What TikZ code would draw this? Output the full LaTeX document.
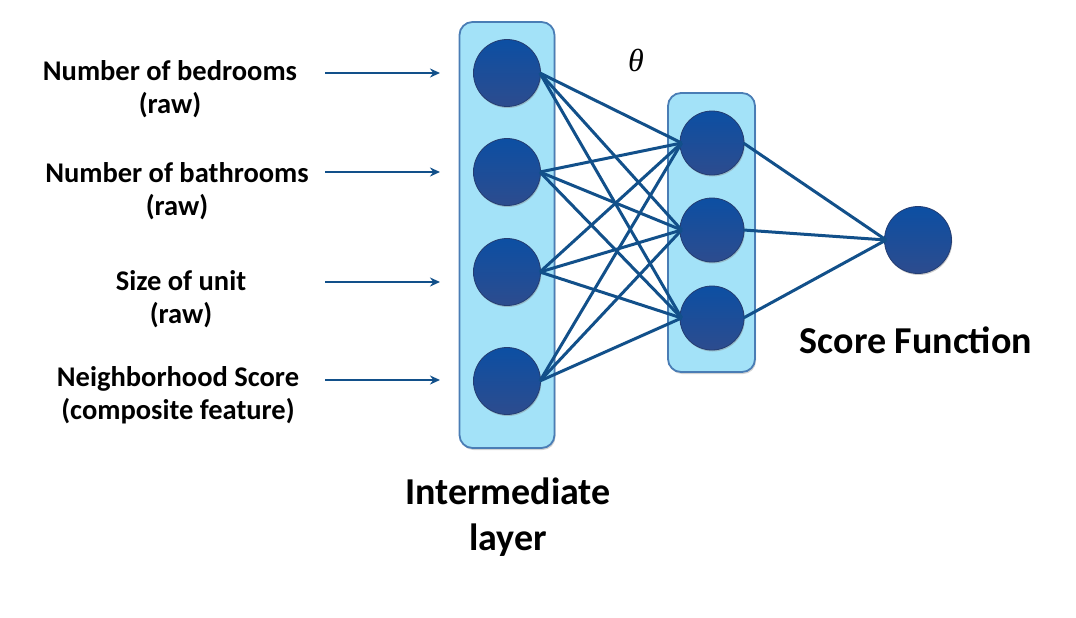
\documentclass[tikz,border=0pt]{standalone}
\usepackage{fontspec}
\setmainfont{Carlito}
\newfontfamily\thetafont{Liberation Serif}
\usetikzlibrary{arrows.meta,shadows}
\definecolor{linec}{HTML}{12508A}
\definecolor{boxfill}{HTML}{A3E2F8}
\definecolor{boxdraw}{HTML}{4A7DB5}
\definecolor{ctop}{HTML}{0C4FA3}
\definecolor{cbot}{HTML}{2D4C8E}
\tikzset{
  layerbox/.style={draw=boxdraw,line width=1.8pt,fill=boxfill,rounded corners=13pt,drop shadow={shadow xshift=1pt,shadow yshift=-2pt,opacity=0.35}},
  neuron/.style={circle,minimum size=67pt,inner sep=0pt,draw=cbot!80!black,line width=0.8pt,top color=ctop,bottom color=cbot,drop shadow={shadow xshift=0.8pt,shadow yshift=-1.5pt,opacity=0.4}},
  conn/.style={draw=linec,line width=3pt},
  inarrow/.style={draw=linec,line width=2.8pt,-{Stealth[length=10pt,width=9pt]}},
  lab/.style={font=\bfseries\fontsize{28.5}{33}\selectfont,align=center},
  biglab/.style={font=\bfseries\fontsize{38}{46}\selectfont,align=center}
}
\begin{document}
\begin{tikzpicture}[x=1pt,y=-1pt]
\useasboundingbox (0,0) rectangle (1076,618);
% boxes
\node[layerbox,minimum width=95pt,minimum height=426pt,inner sep=0pt] (lbox) at (507,235) {};
\node[layerbox,minimum width=87pt,minimum height=279pt,inner sep=0pt] (mbox) at (711.5,232.5) {};
% left neurons
\node[neuron] (l1) at (507,73) {};
\node[neuron] (l2) at (507,172) {};
\node[neuron] (l3) at (507,272) {};
\node[neuron] (l4) at (507,381) {};
% middle neurons
\node[neuron,minimum size=64pt] (m1) at (712,143) {};
\node[neuron,minimum size=64pt] (m2) at (712,230) {};
\node[neuron,minimum size=64pt] (m3) at (712,318) {};
% output
\node[neuron,minimum size=67pt] (o) at (918,240) {};
% connections
\foreach \i in {1,2,3,4}{
  \foreach \j in {1,2,3}{
    \draw[conn] ([xshift=-1pt]l\i.east) -- ([xshift=2pt]m\j.west);
  }
}
\foreach \j in {1,2,3}{
  \draw[conn] ([xshift=-1pt]m\j.east) -- ([xshift=2pt]o.west);
}
% theta
\node[font=\thetafont\itshape\fontsize{32}{32}\selectfont] (theta) at (636,60) {θ};
% input labels
\node[lab] (t1) at (170,89) {Number of bedrooms\\(raw)};
\node[lab] (t2) at (177,191) {Number of bathrooms\\(raw)};
\node[lab] (t3) at (181,299) {Size of unit\\(raw)};
\node[lab] (t4) at (178,395) {Neighborhood Score\\(composite feature)};
% arrows
\coordinate (a1) at (325,73); \coordinate (b1) at (440,73);
\coordinate (a2) at (325,172); \coordinate (b2) at (440,172);
\coordinate (a3) at (325,282); \coordinate (b3) at (440,282);
\coordinate (a4) at (325,380); \coordinate (b4) at (440,380);
\draw[inarrow] (a1) -- (b1);
\draw[inarrow] (a2) -- (b2);
\draw[inarrow] (a3) -- (b3);
\draw[inarrow] (a4) -- (b4);
% bottom labels
\node[biglab] (il) at (508,517) {Intermediate\\layer};
\node[biglab] (sf) at (916,340) {Score Function};
\end{tikzpicture}
\end{document}
